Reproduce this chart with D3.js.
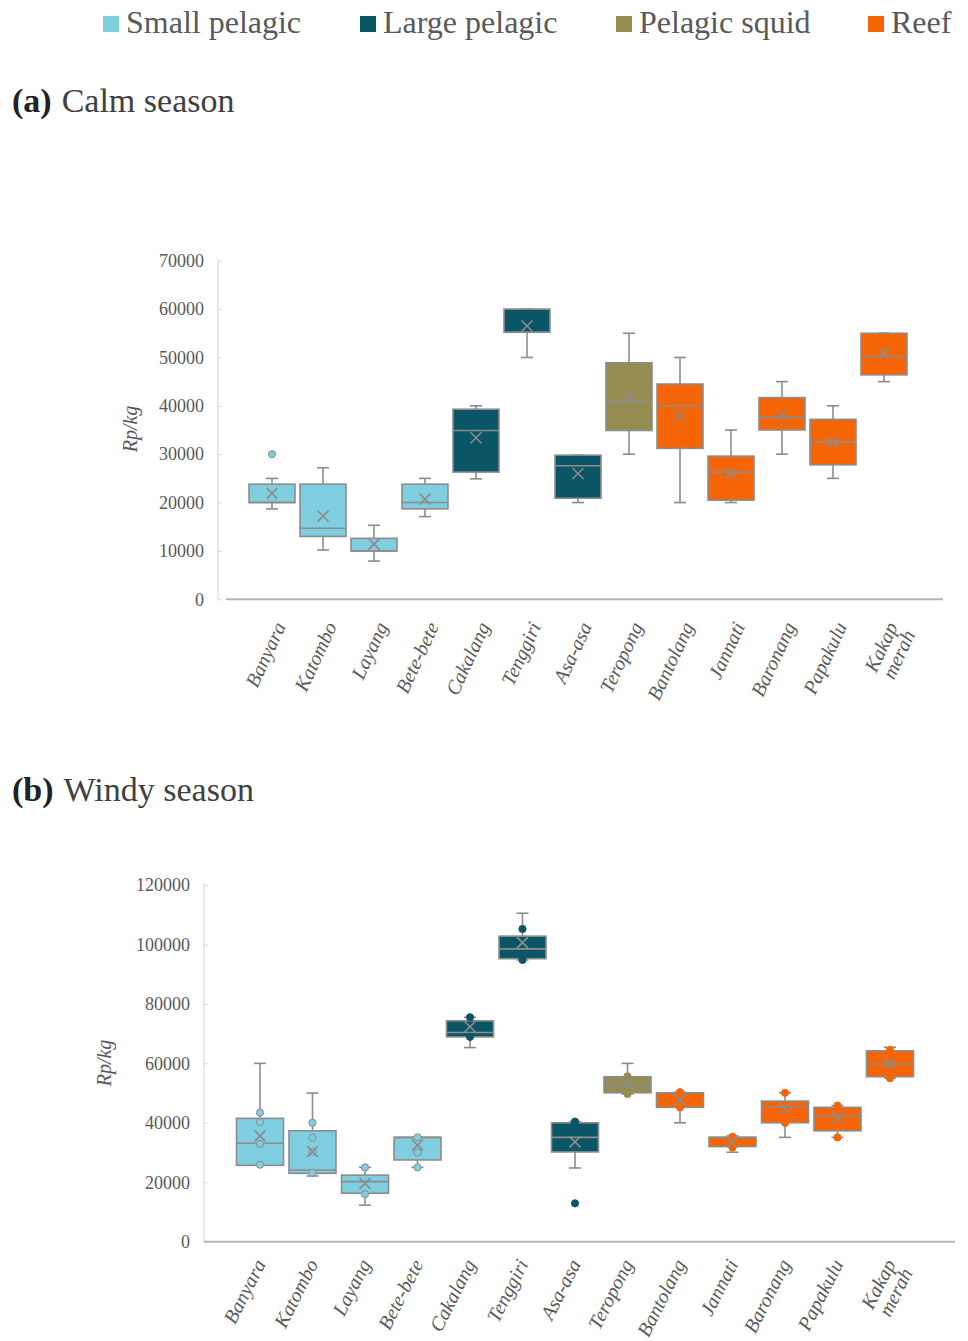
<!DOCTYPE html>
<html>
<head>
<meta charset="utf-8">
<script src="https://cdn.jsdelivr.net/npm/d3@7"></script>
<style>
  body { margin: 0; background: #fff; }
  svg { display: block; }
</style>
</head>
<body>
<svg id="chart" width="968" height="1341"></svg>
<script>
// Fish species (x categories) and the catch group each belongs to
const categories = ["Banyara", "Katombo", "Layang", "Bete-bete", "Cakalang", "Tenggiri", "Asa-asa",
  "Teropong", "Bantolang", "Jannati", "Baronang", "Papakulu", "Kakap merah"];
const groups = ["Small pelagic", "Small pelagic", "Small pelagic", "Small pelagic",
  "Large pelagic", "Large pelagic", "Large pelagic", "Pelagic squid",
  "Reef", "Reef", "Reef", "Reef", "Reef"];
const groupNames = ["Small pelagic", "Large pelagic", "Pelagic squid", "Reef"];
const groupColors = ["#7fcfe0", "#0a5566", "#958c52", "#f56405"];

// (a) Calm season, price in Rp/kg
const calmMin    = [18700, 10200,  7900, 17100, 24900, 50000, 20000, 30000, 20000, 20000, 30000, 25000, 45000];
const calmQ1     = [20000, 13000, 10000, 18700, 26300, 55200, 20900, 34900, 31200, 20500, 35000, 27800, 46400];
const calmMedian = [20000, 14700, 10000, 20000, 34900, 55200, 27600, 41000, 40000, 26300, 37600, 32500, 50200];
const calmQ3     = [23800, 23800, 12600, 23800, 39300, 60000, 29800, 48900, 44500, 29600, 41700, 37200, 55000];
const calmMax    = [25000, 27200, 15300, 25000, 40000, 60000, 29800, 55000, 50000, 35000, 45000, 40000, 55000];
const calmMean   = [21900, 17200, 11400, 20700, 33400, 56500, 26000, 41700, 37800, 26000, 38000, 32500, 50900];
const calmPoints = [[30000], [], [], [], [], [], [], [], [], [], [], [], []];
const calmTicks  = [0, 10000, 20000, 30000, 40000, 50000, 60000, 70000];

// (b) Windy season, price in Rp/kg
const windyMin    = [25700, 22100, 12300, 25000, 65300,  94800, 24800, 49700, 40000, 30100, 35100, 35100, 55000];
const windyQ1     = [25700, 23000, 16300, 27500, 68900,  95200, 30200, 50100, 45200, 32000, 40000, 37300, 55500];
const windyMedian = [33100, 24100, 20200, 35100, 70400,  98500, 35100, 52600, 50100, 35100, 45400, 42300, 59800];
const windyQ3     = [41500, 37300, 22400, 35100, 74300, 102800, 40000, 55500, 50100, 35100, 47300, 45200, 64200];
const windyMax    = [60000, 50000, 25000, 35100, 75500, 110500, 40400, 60000, 50300, 35600, 50100, 45800, 65400];
const windyMean   = [35600, 30300, 19600, 32500, 72300, 100600, 33600, 53300, 47700, 33600, 44900, 41800, 60000];
const windyPoints = [
  [43400, 40200, 32900, 25900], [40000, 35000, 30300, 23200], [25000, 16000], [35100, 30000, 25000],
  [75500, 68900], [105200, 94800], [40400, 12900], [55600, 49700], [50300, 45200],
  [35300, 31700], [50100, 40000], [45800, 35100], [64500, 55000]
];
const windyTicks  = [0, 20000, 40000, 60000, 80000, 100000, 120000];

const svg = d3.select("#chart");
const serif = "'Liberation Serif', 'Times New Roman', serif";
const textGrey = "#595959";
const lineGrey = "#8c8c8c";
const color = d3.scaleOrdinal().domain(groupNames).range(groupColors);

// Legend across the top
const legend = svg.append("g").attr("font-family", serif).attr("font-size", 32).attr("fill", textGrey);
const legendX = [103, 360, 616, 868];
groupNames.forEach((name, i) => {
  legend.append("rect").attr("x", legendX[i]).attr("y", 16).attr("width", 16).attr("height", 16)
    .attr("fill", groupColors[i]);
  legend.append("text").attr("x", legendX[i] + 23).attr("y", 33).text(name);
});

// Panel headings
function heading(label, title, yBase) {
  const t = svg.append("text").attr("x", 12).attr("y", yBase)
    .attr("font-family", serif).attr("font-size", 34).attr("fill", "#222");
  t.append("tspan").attr("font-weight", "bold").text(label);
  t.append("tspan").attr("dx", 10).attr("fill", "#404040").text(title);
}
heading("(a)", "Calm season", 112);
heading("(b)", "Windy season", 801);

function drawPanel(p) {
  const g = svg.append("g");
  const x = d3.scaleBand().domain(categories).range(p.xRange).paddingInner(0).paddingOuter(0);
  const y = d3.scaleLinear().domain([0, d3.max(p.ticks)]).range(p.yRange);
  const bw = p.boxWidth;
  const cap = 12;

  // y axis with small inward ticks
  const yAxis = g.append("g").attr("transform", `translate(${p.yAxisX},0)`)
    .call(d3.axisLeft(y).tickValues(p.ticks).tickSize(-4).tickPadding(14).tickFormat(d3.format("d")));
  yAxis.select(".domain").remove();
  yAxis.selectAll(".tick line").attr("stroke", "#d9d9d9");
  yAxis.selectAll(".tick text").attr("font-family", serif).attr("font-size", 18).attr("fill", textGrey);
  g.append("line").attr("x1", p.yAxisX).attr("x2", p.yAxisX)
    .attr("y1", y(d3.max(p.ticks)) - 2).attr("y2", y(0))
    .attr("stroke", "#d9d9d9").attr("stroke-width", 1.2);

  // x axis baseline
  g.append("line").attr("x1", p.xAxisStart).attr("x2", p.xAxisEnd)
    .attr("y1", y(0)).attr("y2", y(0))
    .attr("stroke", "#b4b4b4").attr("stroke-width", 2);

  // category labels, rotated
  const xAxis = g.append("g").attr("transform", `translate(0,${y(0)})`)
    .call(d3.axisBottom(x).tickSize(0).tickFormat(""));
  xAxis.select(".domain").remove();
  xAxis.selectAll(".tick").each(function (d) {
    const t = d3.select(this).append("text")
      .attr("transform", `translate(${p.labelDx},${p.labelDy}) rotate(${p.labelAngle})`)
      .attr("text-anchor", "end")
      .attr("font-family", serif).attr("font-style", "italic").attr("font-size", 20)
      .attr("fill", textGrey);
    const words = d.split(" ");
    if (words.length > 1) {
      t.append("tspan").attr("x", 0).attr("dy", "0.35em").text(words[0]);
      t.append("tspan").attr("x", 0).attr("dy", "0.95em").text(words.slice(1).join(" "));
    } else {
      t.append("tspan").attr("x", 0).attr("dy", "0.35em").text(d);
    }
  });

  const boxes = g.selectAll(".box").data(categories).join("g").attr("class", "box")
    .attr("transform", d => `translate(${x(d) + x.bandwidth() / 2},0)`);

  // whiskers
  boxes.append("line").attr("x1", 0).attr("x2", 0)
    .attr("y1", (d, i) => y(p.max[i])).attr("y2", (d, i) => y(p.q3[i]))
    .attr("stroke", lineGrey).attr("stroke-width", 1.6);
  boxes.append("line").attr("x1", 0).attr("x2", 0)
    .attr("y1", (d, i) => y(p.q1[i])).attr("y2", (d, i) => y(p.min[i]))
    .attr("stroke", lineGrey).attr("stroke-width", 1.6);
  boxes.append("line").attr("x1", -cap / 2).attr("x2", cap / 2)
    .attr("y1", (d, i) => y(p.max[i])).attr("y2", (d, i) => y(p.max[i]))
    .attr("stroke", lineGrey).attr("stroke-width", 1.6);
  boxes.append("line").attr("x1", -cap / 2).attr("x2", cap / 2)
    .attr("y1", (d, i) => y(p.min[i])).attr("y2", (d, i) => y(p.min[i]))
    .attr("stroke", lineGrey).attr("stroke-width", 1.6);

  // interquartile box
  boxes.append("rect").attr("x", -bw / 2).attr("width", bw)
    .attr("y", (d, i) => y(p.q3[i]))
    .attr("height", (d, i) => Math.max(1, y(p.q1[i]) - y(p.q3[i])))
    .attr("fill", (d, i) => color(groups[i]))
    .attr("stroke", lineGrey).attr("stroke-width", 1.6);

  // median
  boxes.append("line").attr("x1", -bw / 2).attr("x2", bw / 2)
    .attr("y1", (d, i) => y(p.median[i])).attr("y2", (d, i) => y(p.median[i]))
    .attr("stroke", lineGrey).attr("stroke-width", 1.6);

  // data points (inner points and outliers)
  boxes.each(function (d, i) {
    d3.select(this).selectAll("circle").data(p.points[i]).join("circle")
      .attr("cx", 0).attr("cy", v => y(v)).attr("r", 3.6)
      .attr("fill", color(groups[i]))
      .attr("stroke", groups[i] === "Small pelagic" ? lineGrey : color(groups[i]))
      .attr("stroke-width", 1);
  });

  // mean marker (x)
  const m = 5.5;
  boxes.append("path")
    .attr("d", (d, i) => {
      const cy = y(p.mean[i]);
      return `M${-m},${cy - m}L${m},${cy + m}M${-m},${cy + m}L${m},${cy - m}`;
    })
    .attr("stroke", lineGrey).attr("stroke-width", 1.6).attr("fill", "none");

  // axis title
  g.append("text")
    .attr("transform", `translate(${p.titleX},${p.titleY}) rotate(-90)`)
    .attr("text-anchor", "middle")
    .attr("font-family", serif).attr("font-style", "italic").attr("font-size", 20)
    .attr("fill", textGrey).text("Rp/kg");
}

drawPanel({
  min: calmMin, q1: calmQ1, median: calmMedian, q3: calmQ3, max: calmMax, mean: calmMean,
  points: calmPoints, ticks: calmTicks,
  xRange: [246.5, 909.5], yRange: [599.3, 260.7], boxWidth: 46,
  yAxisX: 218, xAxisStart: 226, xAxisEnd: 943,
  labelDx: 8, labelDy: 24, labelAngle: -65,
  titleX: 137, titleY: 429
});

drawPanel({
  min: windyMin, q1: windyQ1, median: windyMedian, q3: windyQ3, max: windyMax, mean: windyMean,
  points: windyPoints, ticks: windyTicks,
  xRange: [233.75, 916.25], yRange: [1241.7, 885], boxWidth: 47,
  yAxisX: 204, xAxisStart: 204, xAxisEnd: 955,
  labelDx: 0, labelDy: 19, labelAngle: -63,
  titleX: 111, titleY: 1063
});
</script>
</body>
</html>
